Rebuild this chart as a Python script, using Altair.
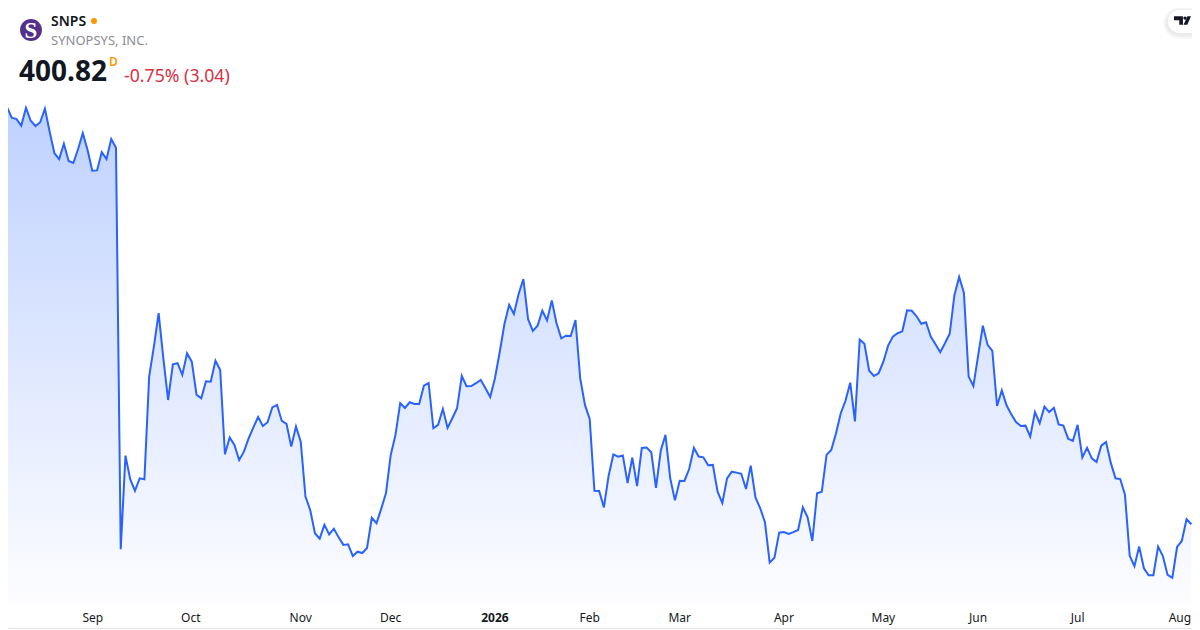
import altair as alt
import pandas as pd

closes = [
 624.0,621.8,616.3,615.6,612.1,621.6,614.7,611.9,613.9,621.1,608.9,597.5,594.4,602.5,593.4,592.3,599.7,608.1,599.2,588.2,
 588.4,598.1,594.4,605.0,600.4,387.6,437.2,424.7,418.6,425.2,424.7,479.1,495.0,512.7,488.8,466.7,485.6,486.2,480.0,491.5,
 487.0,469.5,467.6,476.6,476.4,487.5,482.6,437.9,446.9,442.9,434.9,439.3,446.4,452.2,457.7,452.9,454.9,462.8,464.1,455.6,
 454.0,442.0,452.6,444.6,415.5,408.4,396.1,393.2,400.5,395.5,398.5,393.9,389.9,390.2,384.0,386.3,385.6,388.3,404.3,401.4,
 409.1,417.4,437.6,448.2,465.0,462.5,465.5,464.6,464.6,474.3,475.7,451.7,453.5,461.9,451.9,457.0,462.3,479.4,474.0,474.1,
 475.6,477.3,472.9,468.3,478.2,492.0,507.0,517.2,512.3,522.9,530.8,509.5,503.3,506.1,514.0,508.9,519.5,507.4,499.4,500.8,
 500.6,509.1,478.2,464.1,456.6,418.6,418.5,409.8,426.6,437.9,436.7,437.3,422.7,436.2,421.1,441.3,441.5,439.0,420.1,439.8,
 448.2,425.2,413.5,423.9,423.8,430.1,441.3,436.7,436.3,432.1,432.3,418.1,412.1,425.2,428.7,428.2,427.6,419.5,431.9,415.1,
 409.3,401.9,380.5,383.1,396.4,396.7,395.7,396.7,397.8,409.8,404.5,392.0,417.3,418.1,437.6,440.2,449.1,459.7,466.3,475.9,
 455.4,498.7,496.5,482.2,479.4,480.9,487.0,495.5,500.3,502.1,503.1,514.2,514.0,511.1,507.1,507.9,500.3,496.2,492.0,496.8,
 501.8,522.4,531.9,523.6,479.1,474.1,490.2,506.1,495.9,492.7,463.5,471.8,463.9,459.1,455.0,452.9,453.1,447.3,460.3,454.4,
 463.2,460.3,462.6,453.8,453.1,446.2,445.0,453.5,436.3,441.3,435.8,433.8,442.5,444.4,433.5,425.2,424.8,416.5,384.2,378.6,
 389.0,377.5,373.8,373.8,389.0,384.0,374.0,372.4,388.8,392.0,403.6,400.82,
]
month_labels = ["Sep", "Oct", "Nov", "Dec", "Feb", "Mar", "Apr", "May", "Jun", "Jul", "Aug"]
month_sessions = [19.1, 39.8, 63.0, 82.0, 124.0, 143.0, 165.0, 186.0, 206.0, 227.0, 248.6]
year_labels = ["2026"]
year_sessions = [104.0]
price_floor = 358.6

FONT = "Noto Sans"
W, H = 1200, 630

series = pd.DataFrame({"session": list(range(len(closes))), "close": closes, "floor": [price_floor] * len(closes)})

x_scale = alt.Scale(domain=[-0.486, 252.84], nice=False, zero=False)
y_scale = alt.Scale(domain=[344.8, 678.7], nice=False, zero=False)
x_enc = alt.X("session:Q", scale=x_scale, axis=None)
y_enc = alt.Y("close:Q", scale=y_scale, axis=None)

gradient = alt.Gradient(
    gradient="linear", x1=0, y1=0, x2=0, y2=1,
    stops=[alt.GradientStop(color="#bed1fe", offset=0), alt.GradientStop(color="#fdfdff", offset=1)],
)

area = alt.Chart(series).mark_area(color=gradient, line=False).encode(x=x_enc, y=y_enc, y2=alt.Y2("floor:Q"))
line = alt.Chart(series).mark_line(color="#2962ff", strokeWidth=2).encode(x=x_enc, y=y_enc)


def tick_layer(labels, sessions, weight):
    frame_ = pd.DataFrame({"session": sessions, "label": labels})
    return alt.Chart(frame_).mark_text(
        font=FONT, fontSize=12, fontWeight=weight, color="#131722", baseline="middle", align="center"
    ).encode(x=x_enc, y=alt.value(617.5), text="label:N")


def text(label, x, y, **kw):
    return alt.Chart(pd.DataFrame({"t": [label]})).mark_text(
        font=kw.pop("font", FONT), baseline="middle", align=kw.pop("align", "left"), **kw
    ).encode(x=alt.value(x), y=alt.value(y), text="t:N")


def dot(x, y, size, color, shape="circle"):
    return alt.Chart(pd.DataFrame({"k": [0]})).mark_point(
        filled=True, shape=shape, size=size, color=color, opacity=1, strokeWidth=0
    ).encode(x=alt.value(x), y=alt.value(y))


def box(x, x2, y, y2, **kw):
    return alt.Chart(pd.DataFrame({"k": [0]})).mark_rect(**kw).encode(
        x=alt.value(x), x2=alt.value(x2), y=alt.value(y), y2=alt.value(y2)
    )


frame = box(0.5, 1198.5, 0.5, 628.5, fill="transparent", stroke="#e0e3eb", strokeWidth=1, cornerRadius=6)
pill_shadows = [
    box(1167 - g, 1212, 9 - g + 2, 33 + g + 2, fill="#000000", opacity=0.018, cornerRadius=13 + g)
    for g in (4, 3, 2, 1)
]
pill = box(1168, 1212, 10, 33, fill="#ffffff", cornerRadius=12)
tv_path = "M-1,-0.5 H0.05 V0.5 H-0.38 V-0.03 H-1 Z M0.1,-0.28 a0.2,0.2 0 1 0 0.4,0 a0.2,0.2 0 1 0 -0.4,0 Z M0.58,-0.5 H1 L0.56,0.5 H0.12 Z"

chart = alt.layer(
    area,
    line,
    tick_layer(month_labels, month_sessions, "normal"),
    tick_layer(year_labels, year_sessions, "bold"),
    frame,
    *pill_shadows,
    pill,
    dot(1182.5, 20.5, 289, "#131722", shape=tv_path),
    dot(31, 30, 480, "#53318a"),
    text("S", 31, 30.5, font="Liberation Serif", fontSize=23, fontWeight="bold", color="#ffffff", align="center"),
    text("SNPS", 51, 22, fontSize=14, fontWeight=600, color="#131722"),
    dot(94, 21, 36, "#ff9800"),
    text("SYNOPSYS, INC.", 51, 41, fontSize=13, color="#8c8c94"),
    text("400.82", 19, 72.5, fontSize=28, fontWeight="bold", color="#131722"),
    text("D", 109, 62, fontSize=12, fontWeight=600, color="#ff9800"),
    text("-0.75% (3.04)", 124, 76.5, fontSize=17.7, color="#d8303f"),
).properties(
    width=W,
    height=H,
    padding={"left": -8, "top": -8, "right": -8, "bottom": 0},
    autosize=alt.AutoSizeParams(type="none"),
    background="#ffffff",
).configure_view(stroke=None)

chart.save("out.html", embed_options={"renderer": "svg", "actions": False})
